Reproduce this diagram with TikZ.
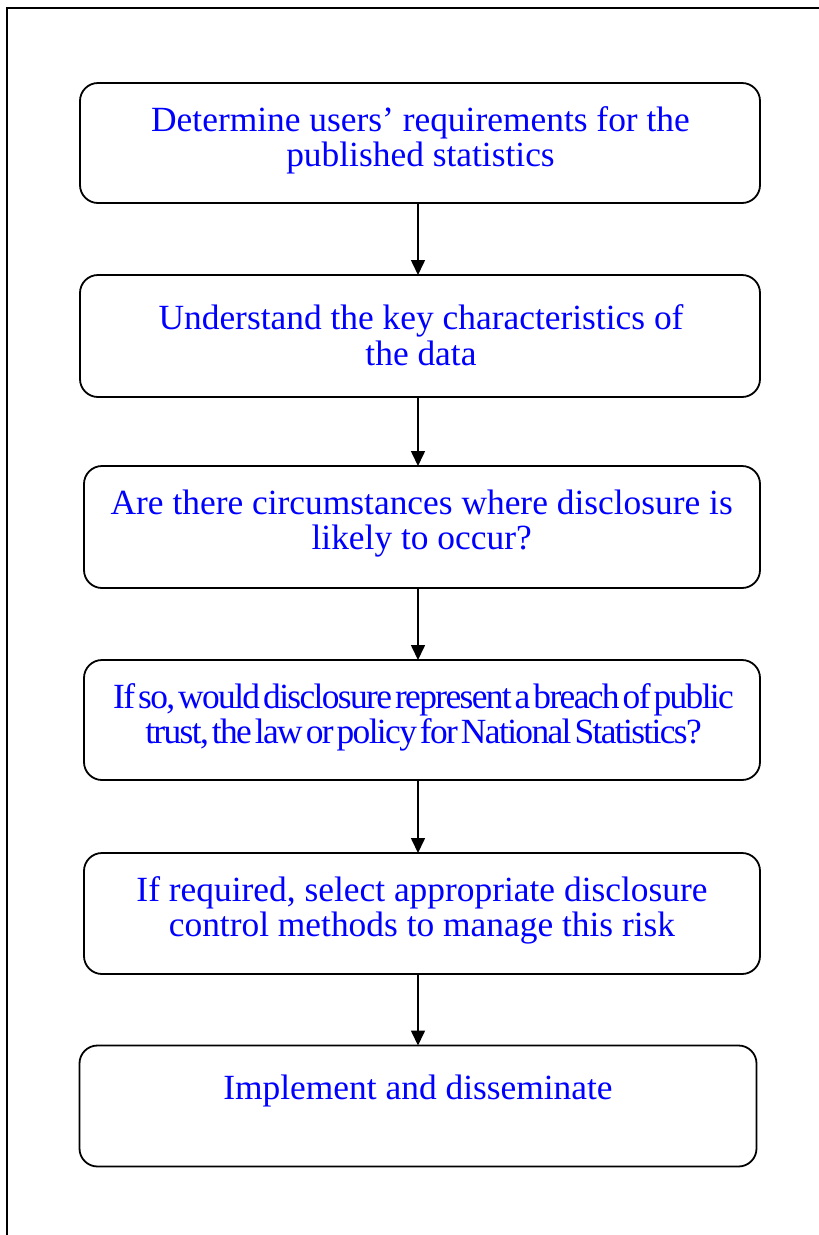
\documentclass[tikz,border=0pt]{standalone}
\usepackage{fontspec}
\setmainfont{Liberation Serif}
\newfontfamily\tightserif[LetterSpace=-4.6]{Liberation Serif}
\usetikzlibrary{arrows.meta}
\begin{document}
\begin{tikzpicture}[x=1pt,y=-1pt,
  stepbox/.style={draw=black, line width=1.8pt, rounded corners=18pt, inner sep=0pt, outer sep=0pt},
  steptext/.style={text=blue, anchor=base, text width=720pt, align=flush center, inner sep=0pt,
    font=\fontsize{35.4}{35.7}\selectfont},
  arr/.style={draw=black, line width=1.6pt, -{Triangle[length=15pt,width=14pt]}},
  frameline/.style={draw=black, line width=1.6pt}]
\useasboundingbox (0,0) rectangle (819,1235);
% outer frame
\coordinate (fbl) at (7,1236);
\coordinate (ftl) at (7,8);
\coordinate (ftr) at (820,8);
\draw[frameline] (fbl) -- (ftl) -- (ftr);
% boxes
\node[stepbox, minimum width=680pt, minimum height=120pt] (b1) at (420,143) {};
\node[stepbox, minimum width=680pt, minimum height=122pt] (b2) at (420,336) {};
\node[stepbox, minimum width=676pt, minimum height=122pt] (b3) at (422,527) {};
\node[stepbox, minimum width=676pt, minimum height=120pt] (b4) at (422,720) {};
\node[stepbox, minimum width=676pt, minimum height=121pt] (b5) at (422,913.5) {};
\node[stepbox, minimum width=677pt, minimum height=121pt] (b6) at (418,1106) {};
% texts
\node[steptext] (t1) at (420.5,131) {Determine users’ requirements for the\\published statistics};
\node[steptext] (t2) at (421,329.3) {Understand the key characteristics of\\the data};
\node[steptext] (t3) at (421.7,514) {Are there circumstances where disclosure is\\likely to occur?};
\node[steptext, font=\tightserif\fontsize{35.4}{35.7}\selectfont] (t4) at (423.5,708) {\spaceskip=3pt\relax If so, would disclosure represent a breach of public\\trust, the law or policy for National Statistics?};
\node[steptext] (t5) at (422,901) {If required, select appropriate disclosure\\control methods to manage this risk};
\node[steptext] (t6) at (418,1099.3) {Implement and disseminate};
% arrows
\coordinate (ax) at (418,0);
\draw[arr] (b1.south -| ax) -- (b2.north -| ax);
\draw[arr] (b2.south -| ax) -- (b3.north -| ax);
\draw[arr] (b3.south -| ax) -- (b4.north -| ax);
\draw[arr] (b4.south -| ax) -- (b5.north -| ax);
\draw[arr] (b5.south -| ax) -- (b6.north -| ax);
\end{tikzpicture}
\end{document}
